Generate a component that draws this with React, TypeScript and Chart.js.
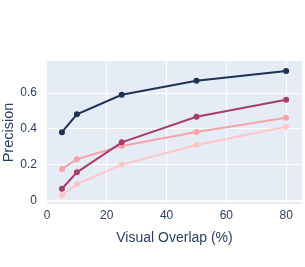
import React, { useEffect, useRef } from "react";
import { Chart, registerables } from "chart.js";

Chart.register(...registerables);

const overlap = [5, 10, 25, 50, 80];
const seriesNavy = [0.382, 0.482, 0.59, 0.668, 0.722];
const seriesMagenta = [0.068, 0.159, 0.326, 0.468, 0.563];
const seriesPink = [0.178, 0.232, 0.306, 0.383, 0.463];
const seriesLight = [0.031, 0.094, 0.202, 0.311, 0.413];
const xTicks = [0, 20, 40, 60, 80];
const yTicks = [0, 0.2, 0.4, 0.6];

const FONT = "'Liberation Sans', Arial, sans-serif";
const TEXT = "#2a3f5f";

const bgPlugin = {
  id: "plotBg",
  beforeDraw(chart: any) {
    const { ctx, chartArea } = chart;
    ctx.save();
    ctx.fillStyle = "#E5ECF6";
    ctx.fillRect(chartArea.left, chartArea.top, chartArea.right - chartArea.left, chartArea.bottom - chartArea.top);
    ctx.restore();
  },
};

function mk(label: string, data: number[], color: string) {
  return {
    label,
    data: overlap.map((x, i) => ({ x, y: data[i] })),
    borderColor: color,
    backgroundColor: color,
    borderWidth: 2,
    pointRadius: 3,
    pointHoverRadius: 3,
    pointBorderWidth: 0,
    tension: 0,
  };
}

export default function App() {
  const ref = useRef<HTMLCanvasElement>(null);
  useEffect(() => {
    if (!ref.current) return;
    const chart = new Chart(ref.current, {
      type: "line",
      data: {
        datasets: [
          mk("navy", seriesNavy, "#1e3354"),
          mk("magenta", seriesMagenta, "#a63e6a"),
          mk("pink", seriesPink, "#f4a3a8"),
          mk("light", seriesLight, "#ffc6c4"),
        ],
      },
      options: {
        animation: false,
        responsive: false,
        maintainAspectRatio: false,
        layout: { padding: { top: 61, right: 0, left: 0, bottom: 0 } },
        plugins: { legend: { display: false }, tooltip: { enabled: false } },
        scales: {
          x: {
            type: "linear",
            min: 0,
            max: 85.3,
            afterBuildTicks: (s: any) => {
              s.ticks = xTicks.map((v) => ({ value: v }));
            },
            afterFit: (s: any) => {
              s.height = 63;
            },
            border: { display: false },
            grid: {
              drawTicks: false,
              color: (c: any) => (c.tick && c.tick.value === 0 ? "rgba(0,0,0,0)" : "#ffffff"),
              lineWidth: 1,
            },
            ticks: {
              padding: 4,
              color: TEXT,
              font: { family: FONT, size: 12 },
              maxRotation: 0,
              callback: (v: any) => String(v),
            },
            title: {
              display: true,
              text: "Visual Overlap (%)",
              color: TEXT,
              font: { family: FONT, size: 14 },
              padding: { top: 0, bottom: 20.6 },
            },
          },
          y: {
            type: "linear",
            min: -0.017,
            max: 0.778,
            afterBuildTicks: (s: any) => {
              s.ticks = yTicks.map((v) => ({ value: v }));
            },
            afterFit: (s: any) => {
              s.width = 47;
            },
            border: { display: false },
            grid: {
              drawTicks: false,
              color: "#ffffff",
              lineWidth: (c: any) => (c.tick && c.tick.value === 0 ? 2 : 1),
            },
            ticks: {
              padding: 10,
              color: TEXT,
              font: { family: FONT, size: 12 },
              callback: (v: any) => String(Math.round(v * 10) / 10),
            },
            title: {
              display: true,
              text: "Precision",
              color: TEXT,
              font: { family: FONT, size: 14.5 },
              padding: { top: 0, bottom: 0 },
            },
          },
        },
      },
      plugins: [bgPlugin],
    } as any);
    return () => chart.destroy();
  }, []);
  return (
    <div style={{ position: "fixed", left: 0, top: 0, width: 305, height: 267, background: "#fff" }}>
      <canvas ref={ref} width={305} height={267} style={{ width: 305, height: 267, display: "block" }} />
    </div>
  );
}
